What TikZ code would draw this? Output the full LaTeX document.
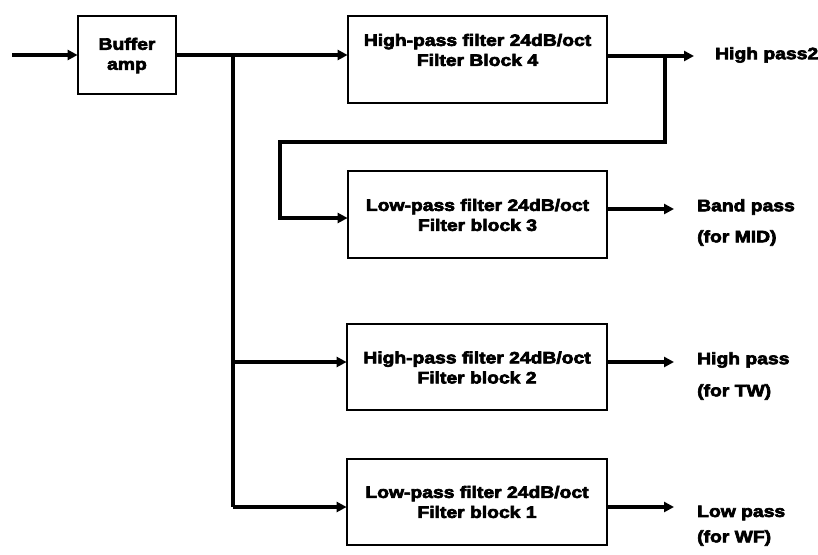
\documentclass[tikz,border=0pt]{standalone}
\usepackage{fontspec}
\newfontfamily\heavy[FakeBold=4,FakeStretch=1.17]{Liberation Sans Bold}
\usetikzlibrary{arrows.meta}
\begin{document}
\begin{tikzpicture}[x=1pt,y=1pt,
  blk/.style={draw, line width=2.8pt, inner sep=0pt},
  txt/.style={font=\heavy\fontsize{16.5}{20}\selectfont, align=center, inner sep=0pt},
  lab/.style={font=\heavy\fontsize{16.5}{20}\selectfont, anchor=west, inner sep=0pt},
  wire/.style={line width=3.4pt},
  arr/.style={line width=3.4pt, -{Triangle[length=10pt,width=10pt]}, shorten >=-1pt}]
\useasboundingbox (0,0) rectangle (818,-554);
% boxes
\node[blk, minimum width=98pt, minimum height=78pt] (buf) at (127,-55) {};
\node[blk, minimum width=259pt, minimum height=87pt] (hpf4) at (477.5,-59.5) {};
\node[blk, minimum width=259pt, minimum height=87pt] (lpf3) at (477.5,-214.5) {};
\node[blk, minimum width=260pt, minimum height=86pt] (hpf2) at (477,-367) {};
\node[blk, minimum width=260pt, minimum height=86pt] (lpf1) at (477,-502) {};
% texts
\node[txt] (tbuf) at (127,-55.5) {Buffer\\amp};
\node[txt] (t4) at (477.5,-50) {High-pass filter 24dB/oct\\Filter Block 4};
\node[txt] (t3) at (477.5,-215) {Low-pass filter 24dB/oct\\Filter block 3};
\node[txt] (t2) at (477,-367.5) {High-pass filter 24dB/oct\\Filter block 2};
\node[txt] (t1) at (477,-502) {Low-pass filter 24dB/oct\\Filter block 1};
% labels
\node[lab] (o4) at (715,-55) {High pass2};
\node[lab] (o3a) at (697,-207) {Band pass};
\node[lab] (o3b) at (697,-238) {(for MID)};
\node[lab] (o2a) at (697,-360) {High pass};
\node[lab] (o2b) at (697,-392) {(for TW)};
\node[lab] (o1a) at (697,-513) {Low pass};
\node[lab] (o1b) at (697,-538) {(for WF)};
% coordinates
\coordinate (in) at (12,-55);
\coordinate (j) at (233,-55);
\coordinate (jb) at (233,-507);
\coordinate (e4) at (693,-56);
\coordinate (k) at (665,-56);
\coordinate (e3) at (673,-209);
\coordinate (e2) at (673,-362);
\coordinate (e1) at (673,-507);
% connectors
\draw[arr] (in) -- (buf.west);
\draw[arr] (buf.east) -- (buf.east -| hpf4.west);
\draw[wire] (j) -- (jb);
\draw[arr] (jb) -- (jb -| lpf1.west);
\draw[arr] (233,-362) -- (hpf2.west |- 0,-362);
\draw[arr] (hpf4.east |- e4) -- (e4);
\draw[arr] (k) -- (665,-142) -- (280,-142) -- (280,-218) -- (lpf3.west |- 0,-218);
\draw[arr] (lpf3.east |- e3) -- (e3);
\draw[arr] (hpf2.east |- e2) -- (e2);
\draw[arr] (lpf1.east |- e1) -- (e1);
\end{tikzpicture}
\end{document}
